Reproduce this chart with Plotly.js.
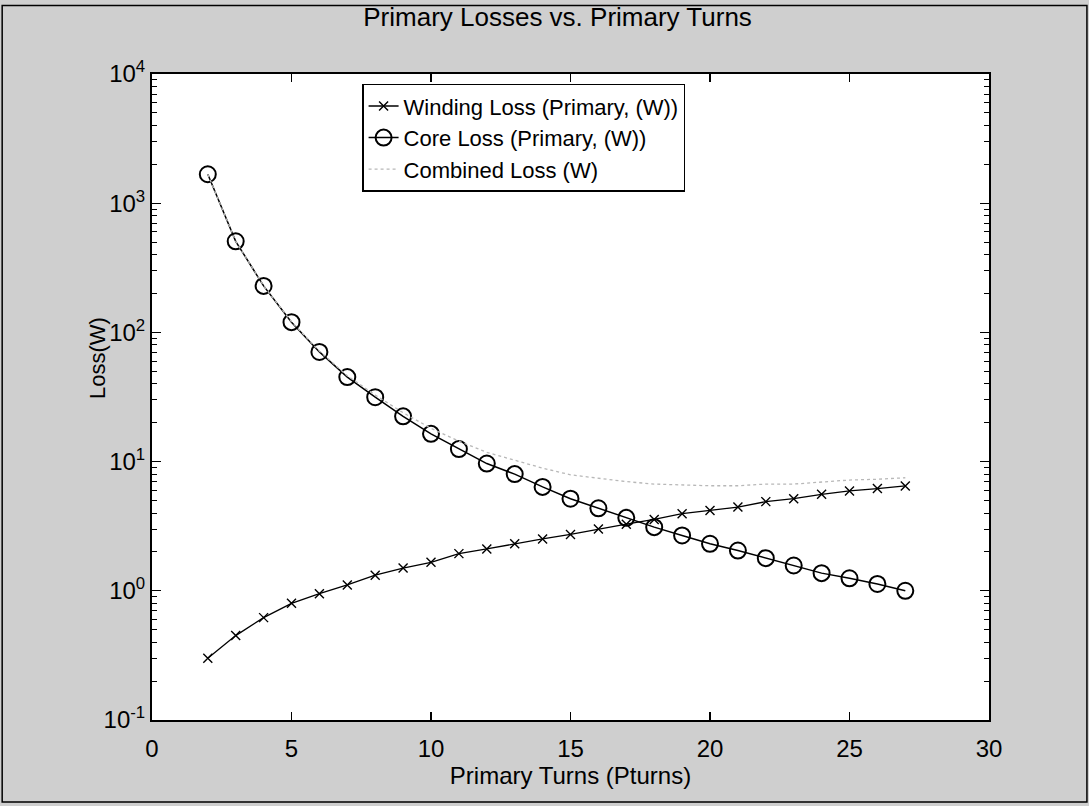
<!DOCTYPE html>
<html>
<head>
<meta charset="utf-8">
<script src="https://cdn.plot.ly/plotly-3.0.1.min.js"></script>
<style>
  html, body { margin: 0; padding: 0; background: #cfcfcf; }
  #chart { width: 1089px; height: 806px; }
</style>
</head>
<body>
<div id="chart"></div>
<script>
// Data
const turns = [2, 3, 4, 5, 6, 7, 8, 9, 10, 11, 12, 13, 14, 15, 16, 17, 18, 19, 20, 21, 22, 23, 24, 25, 26, 27];
const windingLoss = [0.30, 0.45, 0.62, 0.80, 0.95, 1.11, 1.32, 1.50, 1.66, 1.94, 2.11, 2.31, 2.52, 2.73, 3.01, 3.28, 3.57, 3.95, 4.19, 4.45, 4.90, 5.16, 5.58, 5.93, 6.18, 6.48];
const coreLoss = [1675, 507, 229, 120, 70.6, 45.1, 31.5, 22.4, 16.4, 12.5, 9.66, 8.0, 6.37, 5.16, 4.35, 3.67, 3.11, 2.68, 2.31, 2.05, 1.79, 1.57, 1.37, 1.25, 1.13, 1.0];
const combinedLoss = [1675.3, 507.5, 229.6, 120.8, 71.6, 46.2, 32.8, 23.9, 18.1, 14.4, 11.8, 10.3, 8.9, 7.9, 7.4, 7.0, 6.7, 6.6, 6.5, 6.5, 6.7, 6.7, 6.95, 7.2, 7.3, 7.5];

const seriesNames = ['Winding Loss (Primary, (W))', 'Core Loss (Primary, (W))', 'Combined Loss (W)'];
const titleText = 'Primary Losses vs. Primary Turns';
const xTitle = 'Primary Turns (Pturns)';
const yTitle = 'Loss(W)';
const xTicks = [0, 5, 10, 15, 20, 25, 30];
const yTickVals = [0.1, 1, 10, 100, 1000, 10000];
const yTickText = ['10<sup>-1</sup>', '10<sup>0</sup>', '10<sup>1</sup>', '10<sup>2</sup>', '10<sup>3</sup>', '10<sup>4</sup>'];

const FONT = 'Liberation Sans, Arial, sans-serif';

const traces = [
  {
    x: turns, y: windingLoss, name: seriesNames[0], type: 'scatter', mode: 'lines+markers',
    line: {color: '#000', width: 1.3},
    marker: {symbol: 'x-thin-open', size: 9, color: '#000', line: {color: '#000', width: 1.4}}
  },
  {
    x: turns, y: coreLoss, name: seriesNames[1], type: 'scatter', mode: 'lines+markers',
    line: {color: '#000', width: 1.5},
    marker: {symbol: 'circle-open', size: 16, color: '#000', line: {color: '#000', width: 2}}
  },
  {
    x: turns, y: combinedLoss, name: seriesNames[2], type: 'scatter', mode: 'lines',
    line: {color: '#b8b8b8', width: 1.3, dash: 'dot'}
  }
];

const layout = {
  width: 1089, height: 806,
  paper_bgcolor: '#cfcfcf',
  plot_bgcolor: '#ffffff',
  margin: {l: 152, r: 100, t: 74, b: 86},
  font: {family: FONT, color: '#000', size: 24},
  title: {text: titleText, font: {family: FONT, size: 26, color: '#000'}, x: 0.512, xanchor: 'center', y: 0.979, yanchor: 'middle'},
  showlegend: true,
  legend: {
    x: 0.251, y: 0.985, xanchor: 'left', yanchor: 'top',
    bgcolor: '#ffffff', bordercolor: '#000', borderwidth: 1.5,
    font: {family: FONT, size: 22, color: '#000'},
    tracegroupgap: 0
  },
  xaxis: {
    range: [0, 30],
    tickvals: xTicks,
    ticktext: xTicks.map(String),
    ticks: 'inside', ticklen: 8, tickwidth: 1.2, tickcolor: '#000',
    ticklabelstandoff: 6,
    showline: true, linecolor: '#000', linewidth: 2, mirror: 'allticks',
    showgrid: false, zeroline: false,
    tickfont: {family: FONT, size: 24, color: '#000'},
    title: {text: xTitle, font: {family: FONT, size: 24, color: '#000'}, standoff: 2}
  },
  yaxis: {
    type: 'log',
    range: [-1, 4],
    tickvals: yTickVals,
    ticktext: yTickText,
    ticks: 'inside', ticklen: 9, tickwidth: 1.2, tickcolor: '#000',
    minor: {ticks: 'inside', ticklen: 5, tickcolor: '#000', tickwidth: 1, dtick: 'D1', showgrid: false},
    showline: true, linecolor: '#000', linewidth: 2, mirror: 'allticks',
    showgrid: false, zeroline: false,
    tickfont: {family: FONT, size: 24, color: '#000'},
    title: {text: ''}
  },
  annotations: [
    {
      text: yTitle, xref: 'paper', yref: 'paper',
      x: -0.066, y: 0.56, xanchor: 'center', yanchor: 'middle',
      textangle: -90, showarrow: false,
      font: {family: FONT, size: 22, color: '#000'}
    }
  ],
  shapes: [
    {
      type: 'rect', xref: 'paper', yref: 'paper',
      x0: -0.179, x1: 1.117, y0: -0.127, y1: 1.106,
      line: {color: '#000', width: 1.5}, fillcolor: 'rgba(0,0,0,0)', layer: 'below'
    }
  ]
};

Plotly.newPlot('chart', traces, layout, {staticPlot: true, displayModeBar: false});
</script>
</body>
</html>
